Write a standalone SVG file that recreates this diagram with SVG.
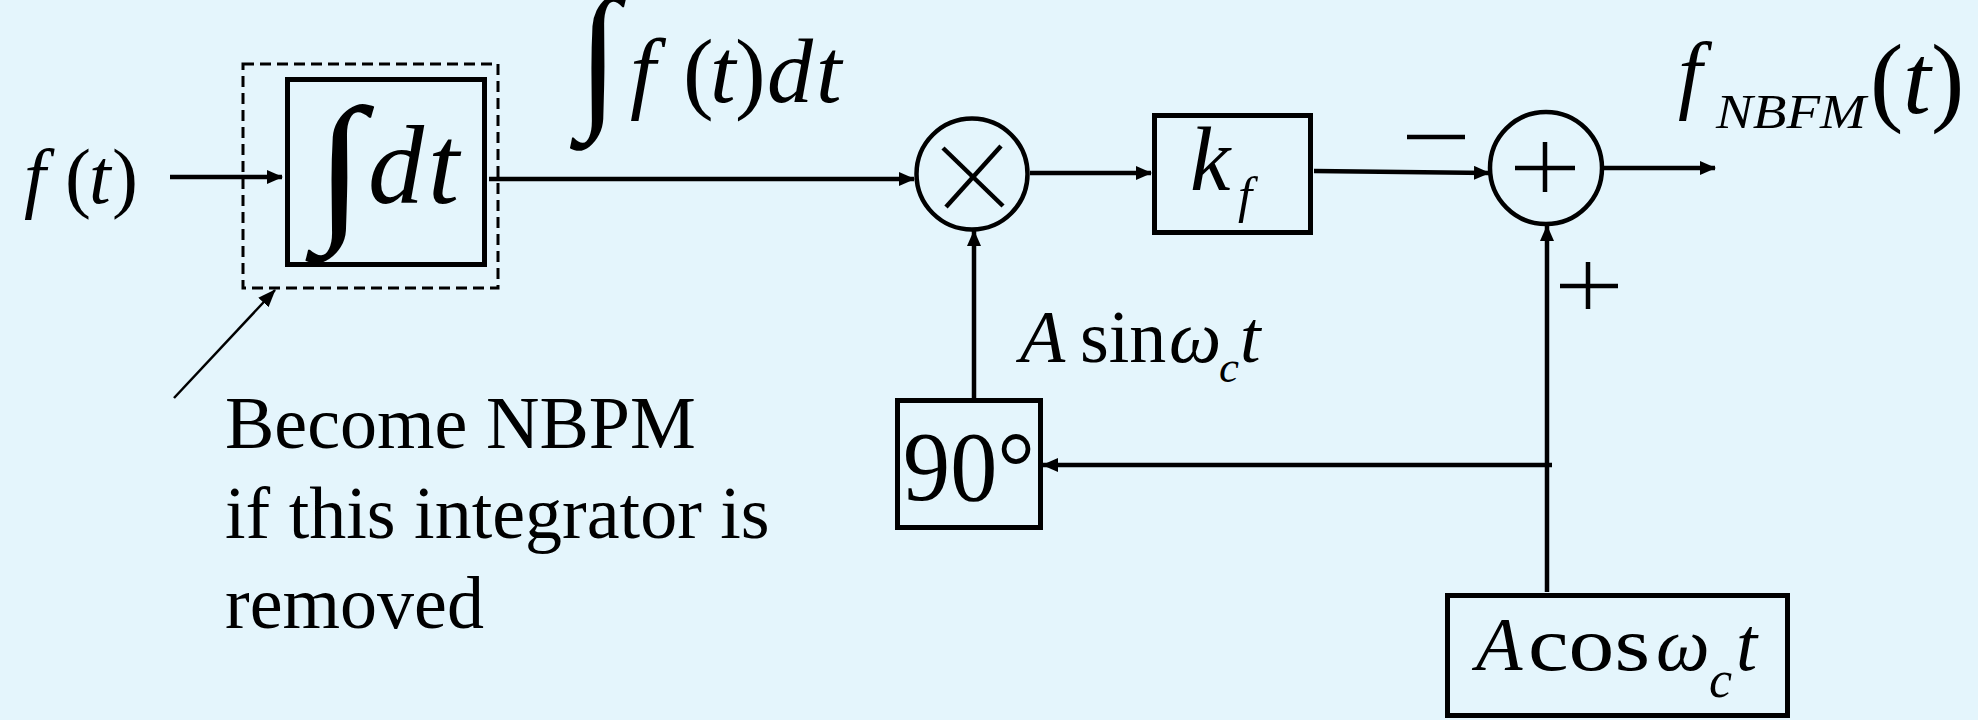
<svg xmlns="http://www.w3.org/2000/svg" width="1978" height="720" viewBox="0 0 1978 720">
<defs>
<style>
.bg{fill:#E4F5FC}
.box{fill:none;stroke:#000;stroke-width:5}
.dash{fill:none;stroke:#000;stroke-width:3;stroke-dasharray:11 6}
.ln{fill:none;stroke:#000;stroke-width:4.5}
.thin{fill:none;stroke:#000;stroke-width:2.5}
.t{font-family:"Liberation Serif","Times New Roman",serif;fill:#000}
.i{font-style:italic}
.int{font-family:"Liberation Serif","Times New Roman",serif;font-weight:bold;fill:#000}
</style>
<marker id="ah" viewBox="0 0 16 14" refX="15" refY="7" markerWidth="16" markerHeight="14" markerUnits="userSpaceOnUse" orient="auto">
<path d="M0,0 L16,7 L0,14 z" fill="#000"/>
</marker>
<marker id="ah2" viewBox="0 0 18 14" refX="17" refY="7" markerWidth="18" markerHeight="14" markerUnits="userSpaceOnUse" orient="auto">
<path d="M0,0 L18,7 L0,14 z" fill="#000"/>
</marker>
</defs>
<rect class="bg" x="0" y="0" width="1978" height="720"/>

<g id="connectors">
<line class="ln" x1="170" y1="177" x2="282" y2="177" marker-end="url(#ah)"/>
<line class="ln" x1="489" y1="179" x2="914" y2="179" marker-end="url(#ah)"/>
<line class="ln" x1="1030" y1="173" x2="1151" y2="173" marker-end="url(#ah)"/>
<line class="ln" x1="1314" y1="171" x2="1489" y2="173" marker-end="url(#ah)"/>
<line class="ln" x1="1603" y1="168" x2="1715" y2="168" marker-end="url(#ah)"/>
<line class="ln" x1="1547" y1="592" x2="1547" y2="226" marker-end="url(#ah)"/>
<line class="ln" x1="1552" y1="465" x2="1043" y2="465" marker-end="url(#ah)"/>
<line class="ln" x1="974" y1="398" x2="974" y2="231" marker-end="url(#ah)"/>
<line class="thin" x1="174" y1="398" x2="275" y2="290" marker-end="url(#ah2)"/>
</g>

<g id="input-label">
<text class="t" y="203" font-size="78"><tspan class="i" x="24">f</tspan><tspan x="65">(</tspan><tspan class="i" x="89">t</tspan><tspan x="112">)</tspan></text>
</g>

<g id="integrator">
<rect class="dash" x="243" y="64" width="255" height="224"/>
<rect class="box" x="287.5" y="79.5" width="197" height="185"/>
<text class="int" transform="translate(315,220) scale(1.4,1.25)" font-size="130">∫</text>
<text class="t i" y="203" font-size="112"><tspan x="368">d</tspan><tspan x="428">t</tspan></text>
</g>

<g id="integral-label">
<text class="int" transform="translate(578,108) scale(1.5,1.6)" font-size="100">∫</text>
<text class="t" y="102" font-size="92"><tspan class="i" x="630">f</tspan><tspan x="683">(</tspan><tspan class="i" x="710">t</tspan><tspan x="735">)</tspan><tspan class="i" x="767">d</tspan><tspan class="i" x="816">t</tspan></text>
</g>

<g id="multiplier">
<circle class="ln" cx="972" cy="174" r="55.5"/>
<line class="ln" x1="943" y1="148" x2="1003" y2="206"/>
<line class="ln" x1="1001" y1="146" x2="946" y2="207"/>
</g>

<g id="kf">
<rect class="box" x="1154.5" y="115.5" width="156" height="117"/>
<text class="t i" x="1190" y="190" font-size="91">k</text>
<text class="t i" x="1238" y="212" font-size="51">f</text>
</g>

<g id="minus-sign">
<line class="ln" x1="1407" y1="137" x2="1465" y2="137" stroke-width="5"/>
</g>

<g id="summer">
<circle class="ln" cx="1546" cy="168" r="56"/>
<line class="ln" x1="1515" y1="168" x2="1575" y2="168"/>
<line class="ln" x1="1545" y1="142" x2="1545" y2="192"/>
</g>

<g id="plus-sign">
<line class="ln" x1="1560" y1="286" x2="1618" y2="286" stroke-width="5"/>
<line class="ln" x1="1588" y1="262" x2="1588" y2="309" stroke-width="5"/>
</g>

<g id="output-label">
<text class="t i" x="1678" y="102" font-size="87">f</text>
<text class="t i" x="1716" y="128" font-size="48" textLength="150" lengthAdjust="spacingAndGlyphs">NBFM</text>
<text class="t" y="113" font-size="100"><tspan x="1870">(</tspan><tspan class="i" x="1903">t</tspan><tspan x="1931">)</tspan></text>
</g>

<g id="phase-shift">
<rect class="box" x="897.5" y="400.5" width="143" height="127"/>
<text class="t" x="903" y="500" font-size="100" textLength="132" lengthAdjust="spacingAndGlyphs">90°</text>
</g>

<g id="sin-label">
<text class="t" y="362" font-size="74"><tspan class="i" x="1020">A</tspan><tspan x="1080">sin</tspan><tspan class="i" x="1169">ω</tspan><tspan class="i" x="1240">t</tspan></text>
<text class="t i" x="1219" y="382" font-size="45">c</text>
</g>

<g id="oscillator">
<rect class="box" x="1447.5" y="595.5" width="340" height="120"/>
<text class="t" y="670" font-size="76"><tspan class="i" x="1476">A</tspan><tspan x="1528" textLength="122" lengthAdjust="spacingAndGlyphs">cos</tspan><tspan class="i" x="1656">ω</tspan><tspan class="i" x="1736">t</tspan></text>
<text class="t i" x="1709" y="697" font-size="52">c</text>
</g>

<g id="note">
<text class="t" font-size="74"><tspan x="225" y="448">Become NBPM</tspan><tspan x="225" y="538">if this integrator is</tspan><tspan x="225" y="628">removed</tspan></text>
</g>
</svg>
